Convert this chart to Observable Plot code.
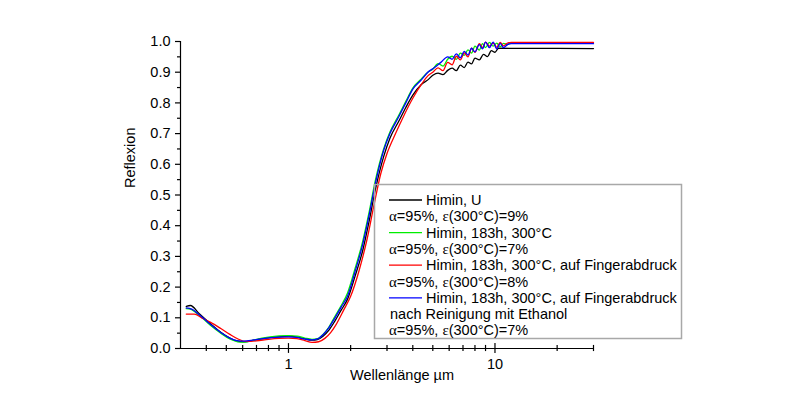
<!DOCTYPE html>
<html>
<head>
<meta charset="utf-8">
<script src="https://cdn.jsdelivr.net/npm/d3@7"></script>
<script src="https://cdn.jsdelivr.net/npm/@observablehq/plot@0.6"></script>
<style>
  html, body { margin: 0; padding: 0; background: #fff; }
  #chart { position: relative; width: 800px; height: 399px; }
</style>
</head>
<body>
<div id="chart"></div>
<script>
// ---- data (wavelength in µm, reflectance) ----
const blackWl = [0.32,0.335,0.37,0.42,0.47,0.52,0.57,0.61,0.68,0.78,0.9,1.0,1.1,1.2,1.3,1.38,1.47,1.57,1.68,1.8,1.93,2.1,2.29,2.45,2.64,2.89,3.1,3.42,3.7,4.0,4.4,4.73,5.0,5.3,5.6,5.9,6.2,6.5,6.8,7.1,7.4,7.7,8.0,8.4,8.8,9.2,9.6,10.0,10.4,30];
const blackR  = [0.137,0.14,0.113,0.08,0.053,0.034,0.024,0.022,0.027,0.034,0.038,0.04,0.037,0.031,0.027,0.029,0.04,0.06,0.09,0.125,0.16,0.235,0.32,0.41,0.52,0.625,0.685,0.74,0.785,0.825,0.86,0.875,0.89,0.897,0.892,0.906,0.913,0.905,0.923,0.915,0.933,0.927,0.946,0.94,0.958,0.951,0.97,0.965,0.978,0.977];

const greenWl = [0.32,0.335,0.37,0.42,0.47,0.52,0.58,0.63,0.7,0.8,0.9,1.0,1.1,1.2,1.3,1.38,1.47,1.57,1.68,1.8,1.93,2.1,2.29,2.45,2.64,2.89,3.1,3.42,3.7,4.0,4.4,4.73,5.0,5.3,5.6,5.9,6.2,6.5,6.8,7.1,7.4,7.7,8.0,8.4,8.7,9.0,9.4,9.8,10.2,10.6,11.0,11.5,12,30];
const greenR  = [0.13,0.128,0.108,0.075,0.05,0.031,0.021,0.022,0.03,0.037,0.041,0.042,0.04,0.034,0.03,0.032,0.046,0.07,0.105,0.14,0.18,0.26,0.35,0.44,0.55,0.65,0.705,0.76,0.805,0.848,0.878,0.9,0.91,0.928,0.92,0.942,0.952,0.942,0.962,0.955,0.973,0.962,0.985,0.972,0.993,0.98,0.997,0.985,0.995,0.983,0.994,0.99,0.995,0.995];

const redWl = [0.32,0.35,0.38,0.42,0.47,0.52,0.57,0.62,0.7,0.8,0.9,1.0,1.1,1.2,1.3,1.4,1.5,1.6,1.7,1.85,2.0,2.2,2.4,2.6,2.8,3.0,3.3,3.6,4.0,4.4,4.73,5.0,5.3,5.6,5.9,6.2,6.5,6.8,7.1,7.4,7.7,8.0,8.4,8.7,9.0,9.4,9.8,10.2,10.6,11.0,11.5,12,30];
const redR  = [0.112,0.112,0.10,0.085,0.065,0.046,0.031,0.023,0.025,0.03,0.033,0.034,0.032,0.026,0.02,0.022,0.033,0.052,0.078,0.125,0.17,0.255,0.355,0.47,0.57,0.635,0.70,0.755,0.815,0.86,0.888,0.9,0.914,0.905,0.932,0.924,0.952,0.94,0.963,0.95,0.978,0.965,0.993,0.98,0.998,0.985,0.995,0.981,0.997,0.986,0.995,0.997,0.997];

const blueWl = [0.32,0.34,0.37,0.42,0.47,0.52,0.57,0.61,0.68,0.78,0.9,1.0,1.1,1.2,1.3,1.38,1.47,1.57,1.68,1.8,1.93,2.1,2.29,2.45,2.64,2.89,3.1,3.42,3.7,4.0,4.4,4.73,5.1,5.47,5.9,6.2,6.5,6.8,7.1,7.4,7.7,8.0,8.4,8.7,9.0,9.4,9.8,10.2,10.6,11.0,11.5,12,30];
const blueR  = [0.132,0.128,0.11,0.078,0.052,0.034,0.025,0.024,0.028,0.034,0.037,0.038,0.036,0.031,0.028,0.031,0.045,0.068,0.10,0.135,0.17,0.25,0.34,0.43,0.54,0.645,0.70,0.755,0.80,0.845,0.875,0.90,0.915,0.932,0.95,0.942,0.96,0.947,0.968,0.956,0.978,0.966,0.99,0.976,0.998,0.98,0.998,0.976,0.994,0.98,0.99,0.993,0.993];

const seriesNames = ["Himin, U", "Himin, 183h, 300°C", "Himin, 183h, 300°C, auf Fingerabdruck", "Himin, 183h, 300°C, auf Fingerabdruck nach Reinigung mit Ethanol"];
const seriesColors = ["#000000", "#00ee00", "#ff0000", "#0000ff"];

const yTicks = [0.0,0.1,0.2,0.3,0.4,0.5,0.6,0.7,0.8,0.9,1.0];
const yMinorTicks = [0.05,0.15,0.25,0.35,0.45,0.55,0.65,0.75,0.85,0.95];
const xTicks = [1, 10];
const xMinorTicks = [0.4,0.5,0.6,0.7,0.8,0.9,2,3,4,5,6,7,8,9,20,30];

const xLabel = "Wellenlänge µm";
const yLabel = "Reflexion";

// ---- build table ----
const toRows = (wl, r, s) => wl.map((w, i) => ({wl: w, r: r[i], s}));
const rows = [
  ...toRows(blackWl, blackR, seriesNames[0]),
  ...toRows(greenWl, greenR, seriesNames[1]),
  ...toRows(redWl, redR, seriesNames[2]),
  ...toRows(blueWl, blueR, seriesNames[3])
];

const font = "'Liberation Sans', Arial, sans-serif";

const svg = Plot.plot({
  width: 800,
  height: 399,
  marginLeft: 180,
  marginRight: 207,
  marginTop: 41,
  marginBottom: 51,
  x: {type: "log", domain: [0.3, 30]},
  y: {domain: [0, 1]},
  color: {domain: seriesNames, range: seriesColors},
  style: {fontFamily: font, fontSize: "14.5px", color: "#000", background: "#fff", overflow: "visible"},
  marks: [
    // data curves
    Plot.line(rows, {x: "wl", y: "r", z: "s", stroke: "s", strokeWidth: 1.3, curve: "monotone-x"}),
    // axis lines
    Plot.ruleX([0.3], {y1: 0, y2: 1, stroke: "#000", strokeWidth: 1.2}),
    Plot.ruleY([0], {x1: 0.3, x2: 30, stroke: "#000", strokeWidth: 1.2}),
    // y axis
    Plot.axisY({ticks: yTicks, tickSize: 5, tickPadding: 5, tickFormat: d3.format(".1f"), label: null, fontSize: 14.5, strokeWidth: 1.2}),
    Plot.axisY({ticks: yMinorTicks, tickSize: 3, tickPadding: 0, tickFormat: () => "", label: null, strokeWidth: 1.2}),
    // x axis ticks (crossing the axis line)
    Plot.ruleX(xMinorTicks, {x: d => d, y1: -0.01, y2: 0.01, stroke: "#000", strokeWidth: 1.2}),
    Plot.ruleX(xTicks, {x: d => d, y1: -0.016, y2: 0.016, stroke: "#000", strokeWidth: 1.2}),
    Plot.axisX({ticks: xTicks, tickSize: 0, tickPadding: 10, tickFormat: d => String(d), label: null, fontSize: 14.5}),
    // axis titles
    Plot.text([yLabel], {frameAnchor: "left", dx: -50, dy: -7, rotate: -90, fontSize: 14.5, fill: "#000"}),
    Plot.text([xLabel], {frameAnchor: "bottom", dx: 15, dy: 31, fontSize: 14.5, fill: "#000"})
  ]
});

// ---- legend (inside plot area) ----
const legendRows = [
  {line: 0, text: "Himin, U"},
  {greek: true, text: "=95%, ", eps: "(300°C)=9%"},
  {line: 1, text: "Himin, 183h, 300°C"},
  {greek: true, text: "=95%, ", eps: "(300°C)=7%"},
  {line: 2, text: "Himin, 183h, 300°C, auf Fingerabdruck"},
  {greek: true, text: "=95%, ", eps: "(300°C)=8%"},
  {line: 3, text: "Himin, 183h, 300°C, auf Fingerabdruck"},
  {plain: true, text: "nach Reinigung mit Ethanol"},
  {greek: true, text: "=95%, ", eps: "(300°C)=7%"}
];

const serif = "'Liberation Serif', 'DejaVu Serif', serif";
const g = d3.select(svg).append("g")
  .attr("font-family", font).attr("font-size", 14.5).attr("fill", "#000").attr("text-anchor", "start");
g.append("rect").attr("x", 374.5).attr("y", 184.5).attr("width", 307).attr("height", 154)
  .attr("fill", "none").attr("stroke", "#a8a8a8").attr("stroke-width", 1.5);
legendRows.forEach((row, i) => {
  const cy = 200 + i * 16.3;
  const base = cy + 5;
  if (row.line !== undefined) {
    g.append("line").attr("x1", 389).attr("x2", 422).attr("y1", cy).attr("y2", cy)
      .attr("stroke", seriesColors[row.line]).attr("stroke-width", 1.3);
    g.append("text").attr("x", 426).attr("y", base).text(row.text);
  } else if (row.plain) {
    g.append("text").attr("x", 390).attr("y", base).text(row.text);
  } else {
    const t = g.append("text").attr("x", 389).attr("y", base);
    t.append("tspan").attr("font-family", serif).attr("font-size", 15).text("α");
    t.append("tspan").text(row.text);
    t.append("tspan").attr("font-family", serif).attr("font-size", 15).text("ε");
    t.append("tspan").text(row.eps);
  }
});

document.getElementById("chart").appendChild(svg);
</script>
</body>
</html>
